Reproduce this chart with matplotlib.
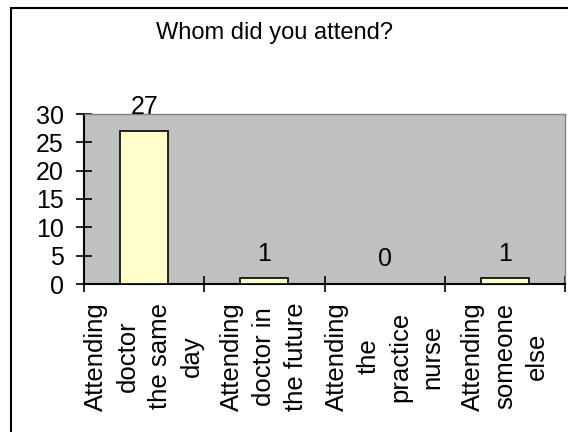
import matplotlib
matplotlib.use("Agg")
import matplotlib.pyplot as plt
from matplotlib.patches import Rectangle
from matplotlib.ticker import FixedLocator, NullFormatter

plt.rcParams['font.family'] = ['Liberation Sans', 'DejaVu Sans']

title = "Whom did you attend?"
categories = ["Attending\ndoctor\nthe same\nday",
              "Attending\ndoctor in\nthe future",
              "Attending\nthe\npractice\nnurse",
              "Attending\nsomeone\nelse"]
values = [27, 1, 0, 1]
y_ticks = [0, 5, 10, 15, 20, 25, 30]

W, H = 568, 432
fig = plt.figure(figsize=(W / 100, H / 100), dpi=100)
fig.patch.set_facecolor('white')

# outer border (left and top visible)
fig.patches.append(Rectangle((11 / W, -0.5), 2, 0.5 + 1 - 7.5 / H, transform=fig.transFigure,
                             fill=False, edgecolor='black', linewidth=1.5))

ax = fig.add_axes([84 / W, 1 - 284 / H, (565 - 84) / W, (284 - 114) / H])
ax.set_facecolor('#C0C0C0')

x = [i + 0.5 for i in range(len(values))]
bars = ax.bar(x, values, width=0.4, color='#FFFFCC', edgecolor='black', linewidth=1.2, zorder=3)
for xi, v in zip(x, values):
    ax.annotate(str(v), (xi, v), xytext=(0, 9), textcoords='offset points',
                ha='center', va='bottom', fontsize=18, clip_on=False)

ax.set_xlim(0, len(values))
ax.set_ylim(0, 30)
ax.set_yticks(y_ticks)
ax.tick_params(axis='y', direction='inout', length=11, width=1.2, labelsize=18, pad=9)
ax.xaxis.set_major_locator(FixedLocator(range(len(values) + 1)))
ax.xaxis.set_major_formatter(NullFormatter())
ax.xaxis.set_minor_locator(FixedLocator(x))
ax.set_xticklabels(categories, minor=True, rotation=90, fontsize=18.5,
                   va='top', ha='center', multialignment='center', linespacing=1.42)
ax.tick_params(axis='x', which='major', direction='inout', length=11, width=1.2)
ax.tick_params(axis='x', which='minor', length=0, pad=13)

for s in ['left', 'bottom']:
    ax.spines[s].set_linewidth(1.5)
    ax.spines[s].set_color('black')
for s in ['top', 'right']:
    ax.spines[s].set_linewidth(1)
    ax.spines[s].set_color('#808080')

fig.text(275 / W, 1 - 33 / H, title, ha='center', va='center', fontsize=17)

fig.savefig('out.png', dpi=100)
